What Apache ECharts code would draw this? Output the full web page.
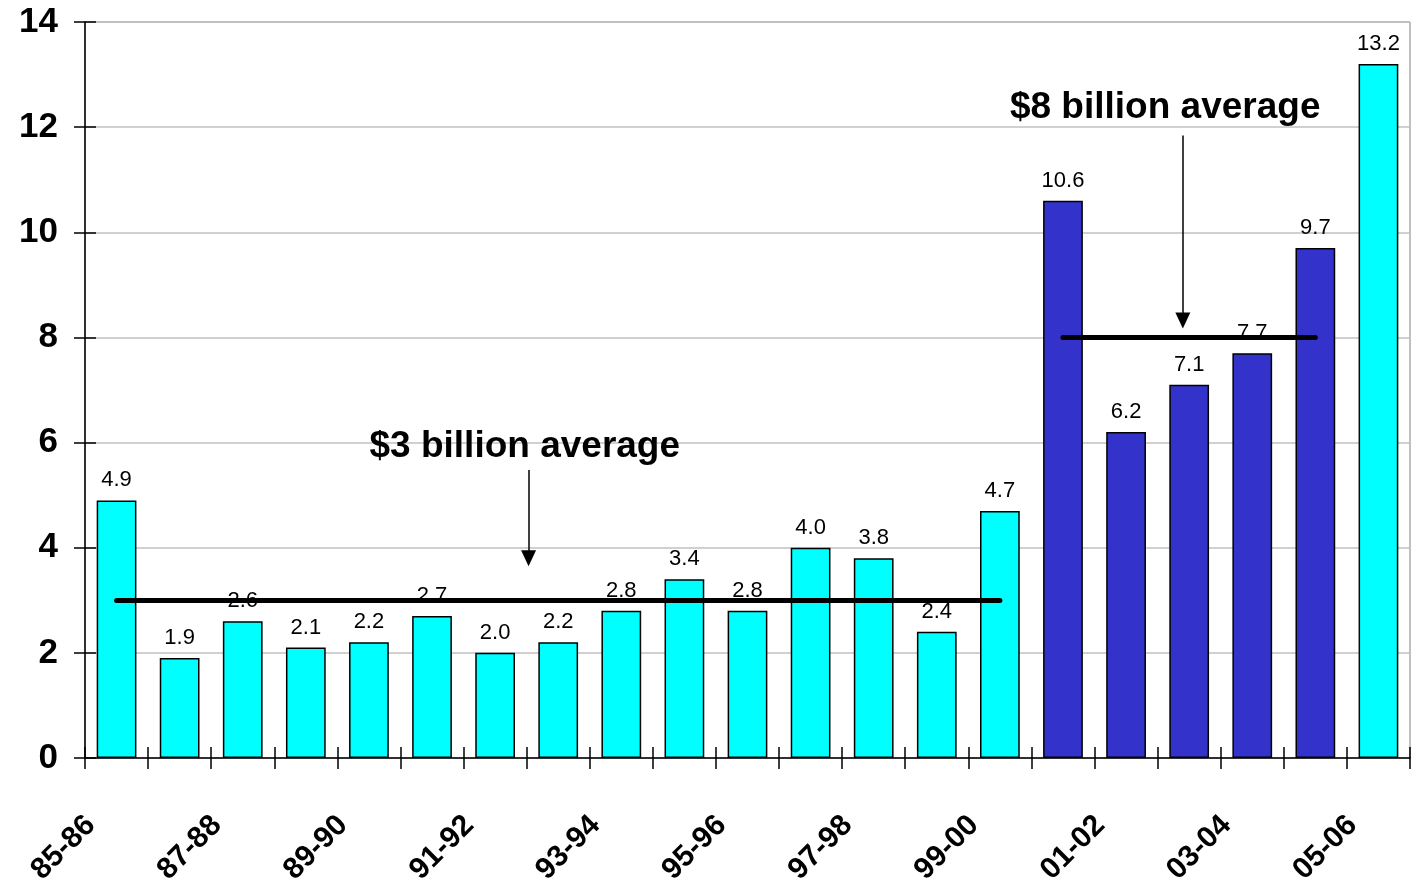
<!DOCTYPE html>
<html>
<head>
<meta charset="utf-8">
<script src="https://cdn.jsdelivr.net/npm/echarts@6/dist/echarts.min.js"></script>
<style>
html,body{margin:0;padding:0;background:#fff;}
#chart{width:1417px;height:879px;}
</style>
</head>
<body>
<div id="chart"></div>
<script>
// ---- data ----
const categories = ['85-86','86-87','87-88','88-89','89-90','90-91','91-92','92-93','93-94','94-95','95-96','96-97','97-98','98-99','99-00','00-01','01-02','02-03','03-04','04-05','05-06'];
const values = [4.9,1.9,2.6,2.1,2.2,2.7,2.0,2.2,2.8,3.4,2.8,4.0,3.8,2.4,4.7,10.6,6.2,7.1,7.7,9.7,13.2];
const highlighted = ['00-01','01-02','02-03','03-04','04-05'];
const averages = [
  {value: 3, from: '85-86', to: '99-00', text: '$3 billion average'},
  {value: 8, from: '00-01', to: '04-05', text: '$8 billion average'}
];
const yTicks = [0, 2, 4, 6, 8, 10, 12, 14];

// ---- annotation placement (in axis units; x measured in category boundaries) ----
const annotationPlacement = [
  {textAt: [6.97, 5.92], arrowFrom: [7.03, 5.48], arrowTo: [7.03, 3.80]},
  {textAt: [17.12, 12.36], arrowFrom: [17.4, 11.84], arrowTo: [17.4, 8.32]}
];

const FONT = "'Liberation Sans', Arial, sans-serif";
const CYAN = '#00FFFF';
const BLUE = '#3333CC';

const chart = echarts.init(document.getElementById('chart'), null, {renderer: 'canvas'});

const barData = values.map((v, i) => ({
  value: v,
  itemStyle: {color: highlighted.includes(categories[i]) ? BLUE : CYAN}
}));

const option = {
  animation: false,
  backgroundColor: '#fff',
  grid: {left: 85, right: 7, top: 22, bottom: 121, show: true, borderColor: '#808080', borderWidth: 1, containLabel: false, outerBoundsMode: 'none'},
  xAxis: [
    {
      type: 'category',
      data: categories,
      boundaryGap: true,
      axisLine: {lineStyle: {color: '#000', width: 1.5}},
      axisTick: {show: true, interval: 0, length: 11, lineStyle: {color: '#000', width: 1.5}},
      axisLabel: {show: false},
      splitLine: {show: false}
    },
    {
      type: 'value',
      min: 0,
      max: categories.length,
      interval: 1,
      position: 'bottom',
      axisLine: {show: false},
      axisTick: {show: true, inside: true, length: 11, lineStyle: {color: '#000', width: 1.5}},
      splitLine: {show: false},
      axisLabel: {
        show: true,
        rotate: 45,
        margin: 47,
        align: 'right',
        verticalAlign: 'top',
        padding: [0, 7, 0, 0],
        fontFamily: FONT,
        fontWeight: 'bold',
        fontSize: 30,
        color: '#000',
        formatter: function (v) {
          const i = Math.round(v);
          return (i % 2 === 0 && i < categories.length) ? categories[i] : '';
        }
      }
    }
  ],
  yAxis: [
    {
      type: 'value',
      min: yTicks[0],
      max: yTicks[yTicks.length - 1],
      interval: yTicks[1] - yTicks[0],
      axisLine: {show: true, lineStyle: {color: '#000', width: 1.5}},
      axisTick: {show: true, length: 11, lineStyle: {color: '#000', width: 1.5}},
      axisLabel: {fontFamily: FONT, fontWeight: 'bold', fontSize: 35, color: '#000', margin: 27},
      splitLine: {show: true, lineStyle: {color: '#c0c0c0', width: 1.5}}
    },
    {
      type: 'value',
      position: 'left',
      min: yTicks[0],
      max: yTicks[yTicks.length - 1],
      interval: yTicks[1] - yTicks[0],
      axisLine: {show: false},
      axisTick: {show: true, inside: true, length: 11, lineStyle: {color: '#000', width: 1.5}},
      axisLabel: {show: false},
      splitLine: {show: false}
    }
  ],
  series: [
    {
      type: 'bar',
      xAxisIndex: 0,
      yAxisIndex: 0,
      data: barData,
      barCategoryGap: '37%',
      itemStyle: {borderColor: '#000', borderWidth: 1.5},
      label: {
        show: true,
        position: 'top',
        distance: 9,
        fontFamily: FONT,
        fontSize: 22,
        color: '#000',
        formatter: p => Number(p.value).toFixed(1)
      },
      markLine: {
        silent: true,
        symbol: ['none', 'none'],
        label: {show: false},
        lineStyle: {color: '#000', width: 5, type: 'solid', cap: 'round'},
        z: 5,
        data: averages.map(a => [
          {coord: [a.from, a.value]},
          {coord: [a.to, a.value]}
        ])
      }
    },
    {
      type: 'scatter',
      xAxisIndex: 1,
      yAxisIndex: 0,
      silent: true,
      symbolSize: 0,
      itemStyle: {opacity: 1},
      data: averages.map((a, i) => ({value: annotationPlacement[i].textAt, name: a.text})),
      label: {
        show: true,
        position: 'inside',
        formatter: p => p.name,
        fontFamily: FONT,
        fontWeight: 'bold',
        fontSize: 37,
        color: '#000',
        opacity: 1
      },
      markLine: {
        silent: true,
        symbol: ['none', 'triangle'],
        symbolSize: [15, 16],
        label: {show: false},
        lineStyle: {color: '#000', width: 1.5, type: 'solid', opacity: 1},
        data: annotationPlacement.map(p => [
          {coord: p.arrowFrom},
          {coord: p.arrowTo}
        ])
      }
    }
  ]
};
chart.setOption(option);
</script>
</body>
</html>
